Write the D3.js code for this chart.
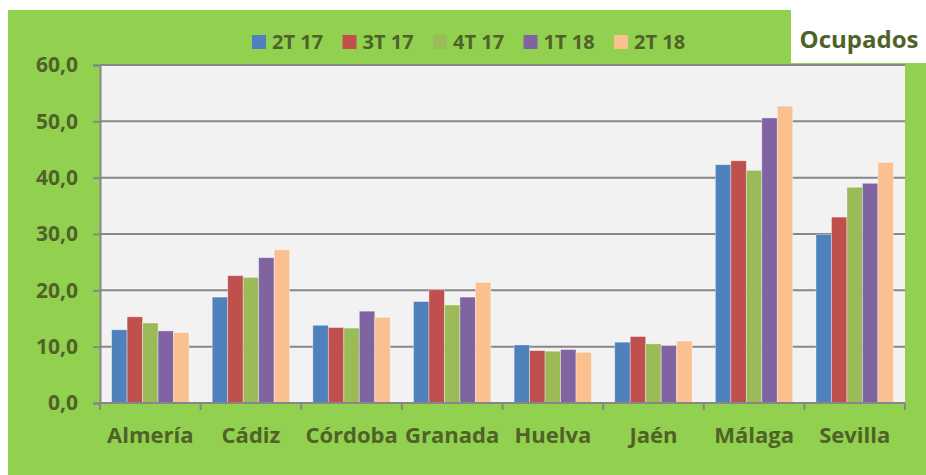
<!DOCTYPE html>
<html>
<head>
<meta charset="utf-8">
<script src="https://cdn.jsdelivr.net/npm/d3@7"></script>
<style>
  body { margin: 0; background: #fff; }
  text { font-family: "Open Sans", Lato, sans-serif; font-weight: bold; fill: #4f6228; }
</style>
</head>
<body>
<div id="chart"></div>
<script>
// provincias y trimestres
const provincias = ["Almería", "Cádiz", "Córdoba", "Granada", "Huelva", "Jaén", "Málaga", "Sevilla"];
const trimestres = ["2T 17", "3T 17", "4T 17", "1T 18", "2T 18"];
const colores = ["#4f81bd", "#c0504d", "#9bbb59", "#8064a2", "#fac090"];

// miles de ocupados, por trimestre
const t2_17 = [13.0, 18.8, 13.8, 18.0, 10.3, 10.8, 42.3, 29.9];
const t3_17 = [15.3, 22.6, 13.4, 20.1, 9.3, 11.8, 43.0, 33.0];
const t4_17 = [14.2, 22.3, 13.3, 17.4, 9.2, 10.5, 41.3, 38.3];
const t1_18 = [12.8, 25.8, 16.3, 18.8, 9.5, 10.2, 50.6, 39.0];
const t2_18 = [12.5, 27.2, 15.2, 21.4, 9.0, 11.0, 52.7, 42.7];
const series = [t2_17, t3_17, t4_17, t1_18, t2_18];

const yTicks = [0, 10, 20, 30, 40, 50, 60];

const width = 926, height = 475;
const margin = { top: 65, right: 21, bottom: 72, left: 100 };

const svg = d3.select("#chart").append("svg")
    .attr("width", width)
    .attr("height", height);

// fondo verde
svg.append("rect")
    .attr("x", 8).attr("y", 10)
    .attr("width", width - 8).attr("height", height - 10)
    .attr("fill", "#92d050");

// caja del título
svg.append("rect")
    .attr("x", 791).attr("y", 10)
    .attr("width", width - 791).attr("height", 53)
    .attr("fill", "#fff");
svg.append("text")
    .attr("x", 859).attr("y", 48)
    .attr("text-anchor", "middle")
    .style("font-size", "24px")
    .text("Ocupados");

const x0 = d3.scaleBand()
    .domain(provincias)
    .range([margin.left, width - margin.right])
    .paddingInner(0.2308)
    .paddingOuter(0.1154);

const x1 = d3.scaleBand()
    .domain(trimestres)
    .range([0, x0.bandwidth()]);

const y = d3.scaleLinear()
    .domain([0, 60])
    .range([height - margin.bottom, margin.top]);

// área del gráfico
svg.append("rect")
    .attr("x", margin.left).attr("y", margin.top)
    .attr("width", width - margin.right - margin.left)
    .attr("height", height - margin.bottom - margin.top)
    .attr("fill", "#f2f2f2");

// rejilla
svg.append("g")
    .selectAll("line")
    .data(yTicks.slice(1))
    .enter()
    .append("line")
    .attr("x1", margin.left).attr("x2", width - margin.right)
    .attr("y1", d => y(d)).attr("y2", d => y(d))
    .attr("stroke", "#878787")
    .attr("stroke-width", 2);

// barras
const grupos = svg.append("g")
    .selectAll("g")
    .data(provincias)
    .enter()
    .append("g")
    .attr("transform", d => "translate(" + x0(d) + ",0)");

grupos.selectAll("rect")
    .data((p, i) => trimestres.map((t, j) => ({ t: t, v: series[j][i], c: colores[j] })))
    .enter()
    .append("rect")
    .attr("x", d => x1(d.t))
    .attr("y", d => y(d.v))
    .attr("width", x1.bandwidth())
    .attr("height", d => y(0) - y(d.v))
    .attr("fill", d => d.c)
    .attr("stroke", "#ffffff")
    .attr("stroke-opacity", 0.45)
    .attr("stroke-width", 0.8);

// eje Y
const yAxis = svg.append("g")
    .attr("transform", "translate(" + margin.left + ",0)")
    .call(d3.axisLeft(y)
        .tickValues(yTicks)
        .tickSize(7)
        .tickPadding(15)
        .tickFormat(d => d3.format(".1f")(d).replace(".", ",")));
yAxis.selectAll("text").style("font-size", "21px");

// eje X
const xAxis = svg.append("g")
    .attr("transform", "translate(0," + y(0) + ")")
    .call(d3.axisBottom(x0).tickSize(0).tickPadding(24));
xAxis.selectAll("text").style("font-size", "22px");

// marcas entre categorías
svg.append("g")
    .selectAll("line")
    .data(d3.range(provincias.length + 1))
    .enter()
    .append("line")
    .attr("x1", i => margin.left + i * x0.step())
    .attr("x2", i => margin.left + i * x0.step())
    .attr("y1", y(0)).attr("y2", y(0) + 7)
    .attr("stroke", "#878787")
    .attr("stroke-width", 2);

svg.selectAll(".domain").attr("stroke", "#878787").attr("stroke-width", 2);
svg.selectAll(".tick line").attr("stroke", "#878787").attr("stroke-width", 2);
xAxis.select(".domain").attr("d", "M" + margin.left + ",0H" + (width - margin.right));

// leyenda
const leyenda = svg.append("g")
    .selectAll("g")
    .data(trimestres)
    .enter()
    .append("g")
    .attr("transform", (d, i) => "translate(" + (252 + i * 90.5) + ",35)");

leyenda.append("rect")
    .attr("width", 14).attr("height", 14)
    .attr("fill", (d, i) => colores[i]);

leyenda.append("text")
    .attr("x", 20).attr("y", 14)
    .style("font-size", "20px")
    .text(d => d);
</script>
</body>
</html>
